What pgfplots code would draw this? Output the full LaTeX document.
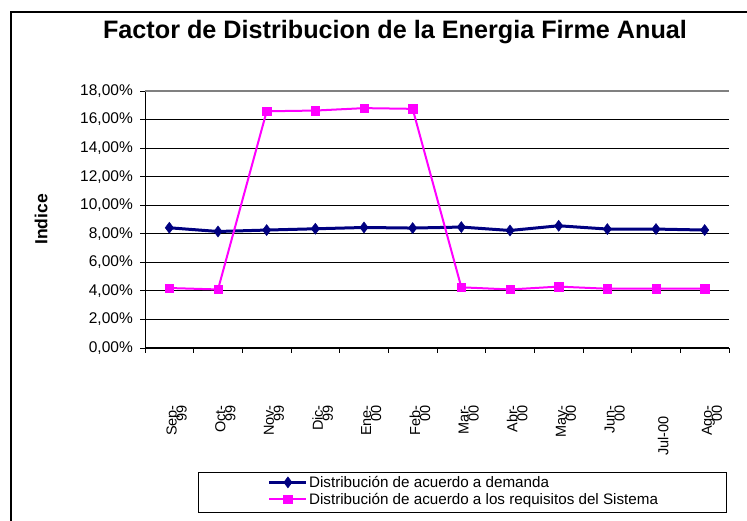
\documentclass[border=0pt]{standalone}
\usepackage{pgfplots}
\pgfplotsset{compat=1.18}
\usepackage{fontspec}
\setmainfont{Liberation Sans}
\definecolor{navy}{HTML}{000080}
\definecolor{magent}{HTML}{FF00FF}
\pgfplotstableread{
x demanda sistema
0.5 8.42 4.20
1.5 8.16 4.10
2.5 8.26 16.58
3.5 8.35 16.63
4.5 8.44 16.80
5.5 8.40 16.75
6.5 8.47 4.25
7.5 8.23 4.10
8.5 8.56 4.30
9.5 8.33 4.15
10.5 8.33 4.15
11.5 8.26 4.15
}\datatable
\begin{document}
\begin{tikzpicture}[x=1pt,y=1pt]
\useasboundingbox (0,0) rectangle (747,521);
\fill[white] (0,0) rectangle (747,521);
\draw[line width=2.5pt] (11,-2) -- (11,509) -- (749,509);
\node[font=\bfseries\fontsize{25.2}{29}\selectfont] at (395,489) {Factor de Distribucion de la Energia Firme Anual};
\begin{axis}[
  at={(145pt,173pt)}, anchor=south west,
  scale only axis, width=584pt, height=257pt,
  xmin=0, xmax=12, ymin=0, ymax=18,
  axis x line*=bottom, axis y line*=left,
  axis line style={line width=1pt, black},
  tick align=outside,
  xtick={0.65,1.65,...,11.65},
  major x tick style={draw=none},
  minor xtick={0,1,...,12},
  minor tick length=5pt,
  major tick length=5pt,
  tick style={black, line width=0.8pt},
  xticklabels={{Sep-\\[-7pt]99},{Oct-\\[-7pt]99},{Nov-\\[-7pt]99},{Dic-\\[-7pt]99},{Ene-\\[-7pt]00},{Feb-\\[-7pt]00},{Mar-\\[-7pt]00},{Abr-\\[-7pt]00},{May-\\[-7pt]00},{Jun-\\[-7pt]00},{Jul-00\rule{11pt}{0pt}},{Ago-\\[-7pt]00}},
  xticklabel style={rotate=90, anchor=east, align=right, inner sep=0pt, font=\fontsize{14.5}{17}\selectfont},
  xticklabel shift=52pt,
  ytick={0,2,...,18},
  yticklabels={{0,00\%},{2,00\%},{4,00\%},{6,00\%},{8,00\%},{10,00\%},{12,00\%},{14,00\%},{16,00\%},{18,00\%}},
  yticklabel style={font=\fontsize{15.5}{18}\selectfont, inner sep=0pt, xshift=-7pt},
  ymajorgrids, grid style={black, line width=0.8pt},
  ylabel={Indice},
  ylabel style={at={(axis description cs:-0.178,0.5)}, anchor=center, rotate=0, font=\bfseries\fontsize{17.5}{20}\selectfont},
  legend style={at={(axis description cs:0.205,-0.485)}, anchor=north west, draw=none, fill=none, font=\fontsize{15.2}{17}\selectfont, row sep=2pt, nodes={inner sep=1.2pt}},
  legend cell align=left,
  legend image code/.code={\draw[mark repeat=2,mark phase=2] plot coordinates {(0pt,0pt)(18.5pt,0pt)(37pt,0pt)};},
  clip=false,
]
\addplot[navy, line width=3pt, mark=diamond*, mark size=5.5pt, mark options={line width=0.5pt}] table[x=x,y=demanda] {\datatable};
\addlegendentry{Distribución de acuerdo a demanda}
\addplot[magent, line width=2pt, mark=square*, mark size=4.2pt, mark options={line width=0.5pt}] table[x=x,y=sistema] {\datatable};
\addlegendentry{Distribución de acuerdo a los requisitos del Sistema}
\draw[gray, line width=2.5pt] (rel axis cs:0,1) -- (rel axis cs:1,1);
\end{axis}
\draw[line width=0.8pt] (198,49) rectangle (726,9);
\end{tikzpicture}
\end{document}
